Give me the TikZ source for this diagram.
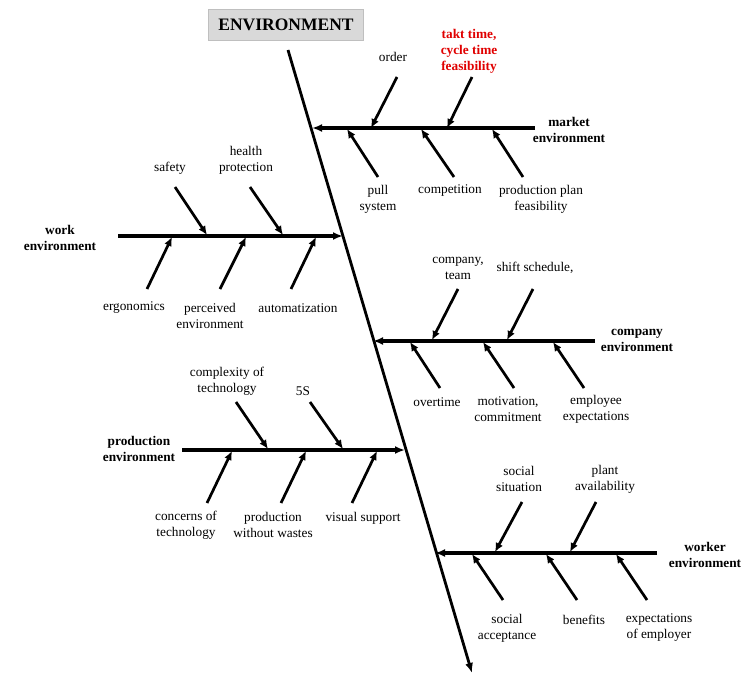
\documentclass[tikz,border=0pt]{standalone}
\usepackage{fontspec}
\setmainfont{Liberation Serif}
\usetikzlibrary{arrows.meta}
\definecolor{boxfill}{HTML}{D9D9D9}
\definecolor{boxline}{HTML}{BFBFBF}
\definecolor{hot}{HTML}{E00000}
\begin{document}
\begin{tikzpicture}[x=1pt,y=-1pt,
  every node/.style={font=\fontsize{13.3}{16}\selectfont, align=center, inner sep=0pt},
  cat/.style={font=\fontsize{13.3}{16}\selectfont\bfseries},
  spine/.style={line width=2.8pt, -{Latex[length=10pt,width=8pt]}},
  branch/.style={line width=3.1pt, -{Latex[length=10pt,width=8pt]}},
  rib/.style={line width=2.7pt, -{Latex[length=9pt,width=8pt]}},
  title/.style={draw=boxline, fill=boxfill, line width=0.8pt, minimum width=155pt, minimum height=31pt, font=\fontsize{17.5}{20}\selectfont\bfseries}
]
\useasboundingbox (0,0) rectangle (744,674);

% title
\node[title] (title) at (286,24.5) {ENVIRONMENT};

% spine
\coordinate (sTop) at (288,50);
\coordinate (sBot) at (472,673);
\draw[spine] (sTop) -- (sBot);

% ===== market environment =====
\coordinate (mS) at (535,128);
\coordinate (mE) at (312,128);
\draw[branch] (mS) -- (mE);
\node[cat] (mkt) at (569,130) {market\\environment};
\node (order) at (393,57) {order};
\node[font=\fontsize{13.3}{16}\selectfont\bfseries, text=hot] (takt) at (469,51) {takt time,\\cycle time\\feasibility};
\node (pull) at (378,199) {pull\\system};
\node (comp) at (450,191) {competition};
\node (ppf) at (541,199) {production plan\\feasibility};
\coordinate (m1a) at (397,77);  \coordinate (m1b) at (371,128);
\coordinate (m2a) at (472,77);  \coordinate (m2b) at (447,128);
\coordinate (m3a) at (378,177); \coordinate (m3b) at (347,129);
\coordinate (m4a) at (454,177); \coordinate (m4b) at (421,129);
\coordinate (m5a) at (523,177); \coordinate (m5b) at (492,129);
\draw[rib] (m1a) -- (m1b);
\draw[rib] (m2a) -- (m2b);
\draw[rib] (m3a) -- (m3b);
\draw[rib] (m4a) -- (m4b);
\draw[rib] (m5a) -- (m5b);

% ===== work environment =====
\coordinate (wS) at (118,236);
\coordinate (wE) at (343,236);
\draw[branch] (wS) -- (wE);
\node[cat] (work) at (60,238) {work\\environment};
\node (safety) at (170,168) {safety};
\node (health) at (246,160) {health\\protection};
\node (ergo) at (134,308) {ergonomics};
\node (perc) at (210,316) {perceived\\environment};
\node (auto) at (298,308) {automatization};
\coordinate (w1a) at (175,187); \coordinate (w1b) at (207,235);
\coordinate (w2a) at (250,187); \coordinate (w2b) at (283,235);
\coordinate (w3a) at (147,289); \coordinate (w3b) at (172,237);
\coordinate (w4a) at (220,289); \coordinate (w4b) at (246,237);
\coordinate (w5a) at (291,289); \coordinate (w5b) at (316,237);
\draw[rib] (w1a) -- (w1b);
\draw[rib] (w2a) -- (w2b);
\draw[rib] (w3a) -- (w3b);
\draw[rib] (w4a) -- (w4b);
\draw[rib] (w5a) -- (w5b);

% ===== company environment =====
\coordinate (cS) at (595,341);
\coordinate (cE) at (373,341);
\draw[branch] (cS) -- (cE);
\node[cat] (compenv) at (637,340) {company\\environment};
\node (team) at (458,268) {company,\\team};
\node (shift) at (535,268) {shift schedule,};
\node (over) at (437,402) {overtime};
\node (motiv) at (508,409) {motivation,\\commitment};
\node (empl) at (596,409) {employee\\expectations};
\coordinate (c1a) at (458,289); \coordinate (c1b) at (432,340);
\coordinate (c2a) at (533,289); \coordinate (c2b) at (507,340);
\coordinate (c3a) at (440,388); \coordinate (c3b) at (410,342);
\coordinate (c4a) at (514,388); \coordinate (c4b) at (483,342);
\coordinate (c5a) at (584,388); \coordinate (c5b) at (553,342);
\draw[rib] (c1a) -- (c1b);
\draw[rib] (c2a) -- (c2b);
\draw[rib] (c3a) -- (c3b);
\draw[rib] (c4a) -- (c4b);
\draw[rib] (c5a) -- (c5b);

% ===== production environment =====
\coordinate (pS) at (182,450);
\coordinate (pE) at (405,450);
\draw[branch] (pS) -- (pE);
\node[cat] (prodenv) at (139,449) {production\\environment};
\node (cplx) at (227,381) {complexity of\\technology};
\node (fiveS) at (303,391) {5S};
\node (conc) at (186,525) {concerns of\\technology};
\node (pww) at (273,525) {production\\without wastes};
\node (vis) at (363,518) {visual support};
\coordinate (p1a) at (236,402); \coordinate (p1b) at (268,449);
\coordinate (p2a) at (310,402); \coordinate (p2b) at (343,449);
\coordinate (p3a) at (207,503); \coordinate (p3b) at (232,451);
\coordinate (p4a) at (281,503); \coordinate (p4b) at (306,451);
\coordinate (p5a) at (352,503); \coordinate (p5b) at (377,451);
\draw[rib] (p1a) -- (p1b);
\draw[rib] (p2a) -- (p2b);
\draw[rib] (p3a) -- (p3b);
\draw[rib] (p4a) -- (p4b);
\draw[rib] (p5a) -- (p5b);

% ===== worker environment =====
\coordinate (kS) at (657,553);
\coordinate (kE) at (435,553);
\draw[branch] (kS) -- (kE);
\node[cat] (workenv) at (705,555) {worker\\environment};
\node (socsit) at (519,479) {social\\situation};
\node (plant) at (605,479) {plant\\availability};
\node (socacc) at (507,628) {social\\acceptance};
\node (ben) at (584,620) {benefits};
\node (expe) at (659,628) {expectations\\of employer};
\coordinate (k1a) at (522,502); \coordinate (k1b) at (495,552);
\coordinate (k2a) at (596,502); \coordinate (k2b) at (570,552);
\coordinate (k3a) at (503,600); \coordinate (k3b) at (472,554);
\coordinate (k4a) at (577,600); \coordinate (k4b) at (546,554);
\coordinate (k5a) at (647,600); \coordinate (k5b) at (616,554);
\draw[rib] (k1a) -- (k1b);
\draw[rib] (k2a) -- (k2b);
\draw[rib] (k3a) -- (k3b);
\draw[rib] (k4a) -- (k4b);
\draw[rib] (k5a) -- (k5b);
\end{tikzpicture}
\end{document}
